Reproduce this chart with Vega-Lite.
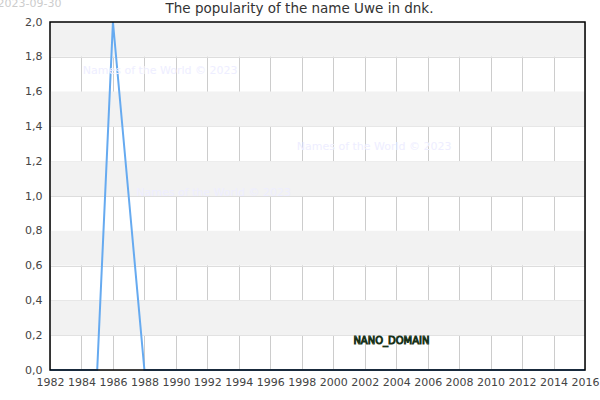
{
  "$schema": "https://vega.github.io/schema/vega-lite/v6.json",
  "autosize": "none",
  "padding": {"left": 50, "top": 22, "right": 15, "bottom": 30},
  "width": 535,
  "height": 348,
  "background": "white",
  "title": {
    "text": "The popularity of the name Uwe in dnk.",
    "font": "DejaVu Sans",
    "fontSize": 13.5,
    "fontWeight": "normal",
    "color": "#333333",
    "anchor": "middle",
    "dx": -18,
    "offset": -18
  },
  "datasets": {
    "series": [
      {"year": 1982, "value": 0},
      {"year": 1983, "value": 0},
      {"year": 1984, "value": 0},
      {"year": 1985, "value": 0},
      {"year": 1986, "value": 2},
      {"year": 1987, "value": 1},
      {"year": 1988, "value": 0},
      {"year": 1989, "value": 0},
      {"year": 1990, "value": 0},
      {"year": 1991, "value": 0},
      {"year": 1992, "value": 0},
      {"year": 1993, "value": 0},
      {"year": 1994, "value": 0},
      {"year": 1995, "value": 0},
      {"year": 1996, "value": 0},
      {"year": 1997, "value": 0},
      {"year": 1998, "value": 0},
      {"year": 1999, "value": 0},
      {"year": 2000, "value": 0},
      {"year": 2001, "value": 0},
      {"year": 2002, "value": 0},
      {"year": 2003, "value": 0},
      {"year": 2004, "value": 0},
      {"year": 2005, "value": 0},
      {"year": 2006, "value": 0},
      {"year": 2007, "value": 0},
      {"year": 2008, "value": 0},
      {"year": 2009, "value": 0},
      {"year": 2010, "value": 0},
      {"year": 2011, "value": 0},
      {"year": 2012, "value": 0},
      {"year": 2013, "value": 0},
      {"year": 2014, "value": 0},
      {"year": 2015, "value": 0},
      {"year": 2016, "value": 0}
    ],
    "bands": [
      {"lo": 0.2, "hi": 0.4},
      {"lo": 0.6, "hi": 0.8},
      {"lo": 1.0, "hi": 1.2},
      {"lo": 1.4, "hi": 1.6},
      {"lo": 1.8, "hi": 2.0}
    ],
    "frame": [
      {"x0": 1982, "x1": 2016, "y0": 0, "y1": 2}
    ],
    "marks": [
      {"year": 1989.0, "value": 1.72, "label": "Names of the World © 2023"},
      {"year": 2002.6, "value": 1.28, "label": "Names of the World © 2023"},
      {"year": 1992.4, "value": 1.02, "label": "Names of the World © 2023"}
    ],
    "stamp": [
      {"year": 1980.7, "value": 2.105, "label": "2023-09-30"}
    ],
    "domain": [
      {"year": 2003.7, "value": 0.167, "label": "NANO_DOMAIN"}
    ]
  },
  "layer": [
    {
      "data": {"name": "bands"},
      "mark": {"type": "rect", "color": "#f2f2f2"},
      "encoding": {
        "y": {"field": "lo", "type": "quantitative", "scale": {"domain": [0, 2]}},
        "y2": {"field": "hi"}
      }
    },
    {
      "data": {"name": "series"},
      "mark": {"type": "line", "color": "#66aaf0", "strokeWidth": 2, "clip": false},
      "encoding": {
        "x": {
          "field": "year",
          "type": "quantitative",
          "scale": {"domain": [1982, 2016], "nice": false, "zero": false},
          "axis": {
            "title": null,
            "values": [1982, 1984, 1986, 1988, 1990, 1992, 1994, 1996, 1998, 2000, 2002, 2004, 2006, 2008, 2010, 2012, 2014, 2016],
            "tickCount": 50,
            "format": "d",
            "labelOverlap": false,
            "labelFlush": false,
            "grid": true,
            "gridColor": "#cccccc",
            "gridWidth": 1,
            "domain": false,
            "ticks": false,
            "labelPadding": 6,
            "labelFont": "DejaVu Sans",
            "labelFontSize": 11,
            "labelColor": "#444444"
          }
        },
        "y": {
          "field": "value",
          "type": "quantitative",
          "scale": {"domain": [0, 2], "nice": false},
          "axis": {
            "title": null,
            "values": [0, 0.2, 0.4, 0.6, 0.8, 1.0, 1.2, 1.4, 1.6, 1.8, 2.0],
            "tickCount": 50,
            "labelExpr": "replace(format(datum.value, '.1f'), '.', ',')",
            "labelOverlap": false,
            "labelFlush": false,
            "grid": true,
            "gridColor": "#dddddd",
            "gridWidth": 1,
            "domain": false,
            "ticks": false,
            "labelPadding": 8,
            "labelFont": "DejaVu Sans",
            "labelFontSize": 11,
            "labelColor": "#444444"
          }
        }
      }
    },
    {
      "data": {"name": "marks"},
      "mark": {"type": "text", "color": "#eeeeff", "font": "DejaVu Sans", "fontSize": 11, "align": "center", "baseline": "middle"},
      "encoding": {
        "x": {"field": "year", "type": "quantitative"},
        "y": {"field": "value", "type": "quantitative"},
        "text": {"field": "label"}
      }
    },
    {
      "data": {"name": "stamp"},
      "mark": {"type": "text", "color": "#cccccc", "font": "DejaVu Sans", "fontSize": 11, "align": "center", "baseline": "middle", "clip": false},
      "encoding": {
        "x": {"field": "year", "type": "quantitative"},
        "y": {"field": "value", "type": "quantitative"},
        "text": {"field": "label"}
      }
    },
    {
      "data": {"name": "domain"},
      "mark": {"type": "text", "fill": "#a8cca8", "stroke": "#1a331a", "strokeWidth": 1, "font": "DejaVu Sans", "fontSize": 10, "align": "center", "baseline": "middle"},
      "encoding": {
        "x": {"field": "year", "type": "quantitative"},
        "y": {"field": "value", "type": "quantitative"},
        "text": {"field": "label"}
      }
    },
    {
      "data": {"name": "frame"},
      "mark": {"type": "rect", "fill": null, "fillOpacity": 0, "stroke": "#000000", "strokeWidth": 1.5, "clip": false},
      "encoding": {
        "x": {"field": "x0", "type": "quantitative"},
        "x2": {"field": "x1"},
        "y": {"field": "y0", "type": "quantitative"},
        "y2": {"field": "y1"}
      }
    }
  ],
  "config": {
    "view": {"stroke": null}
  }
}
